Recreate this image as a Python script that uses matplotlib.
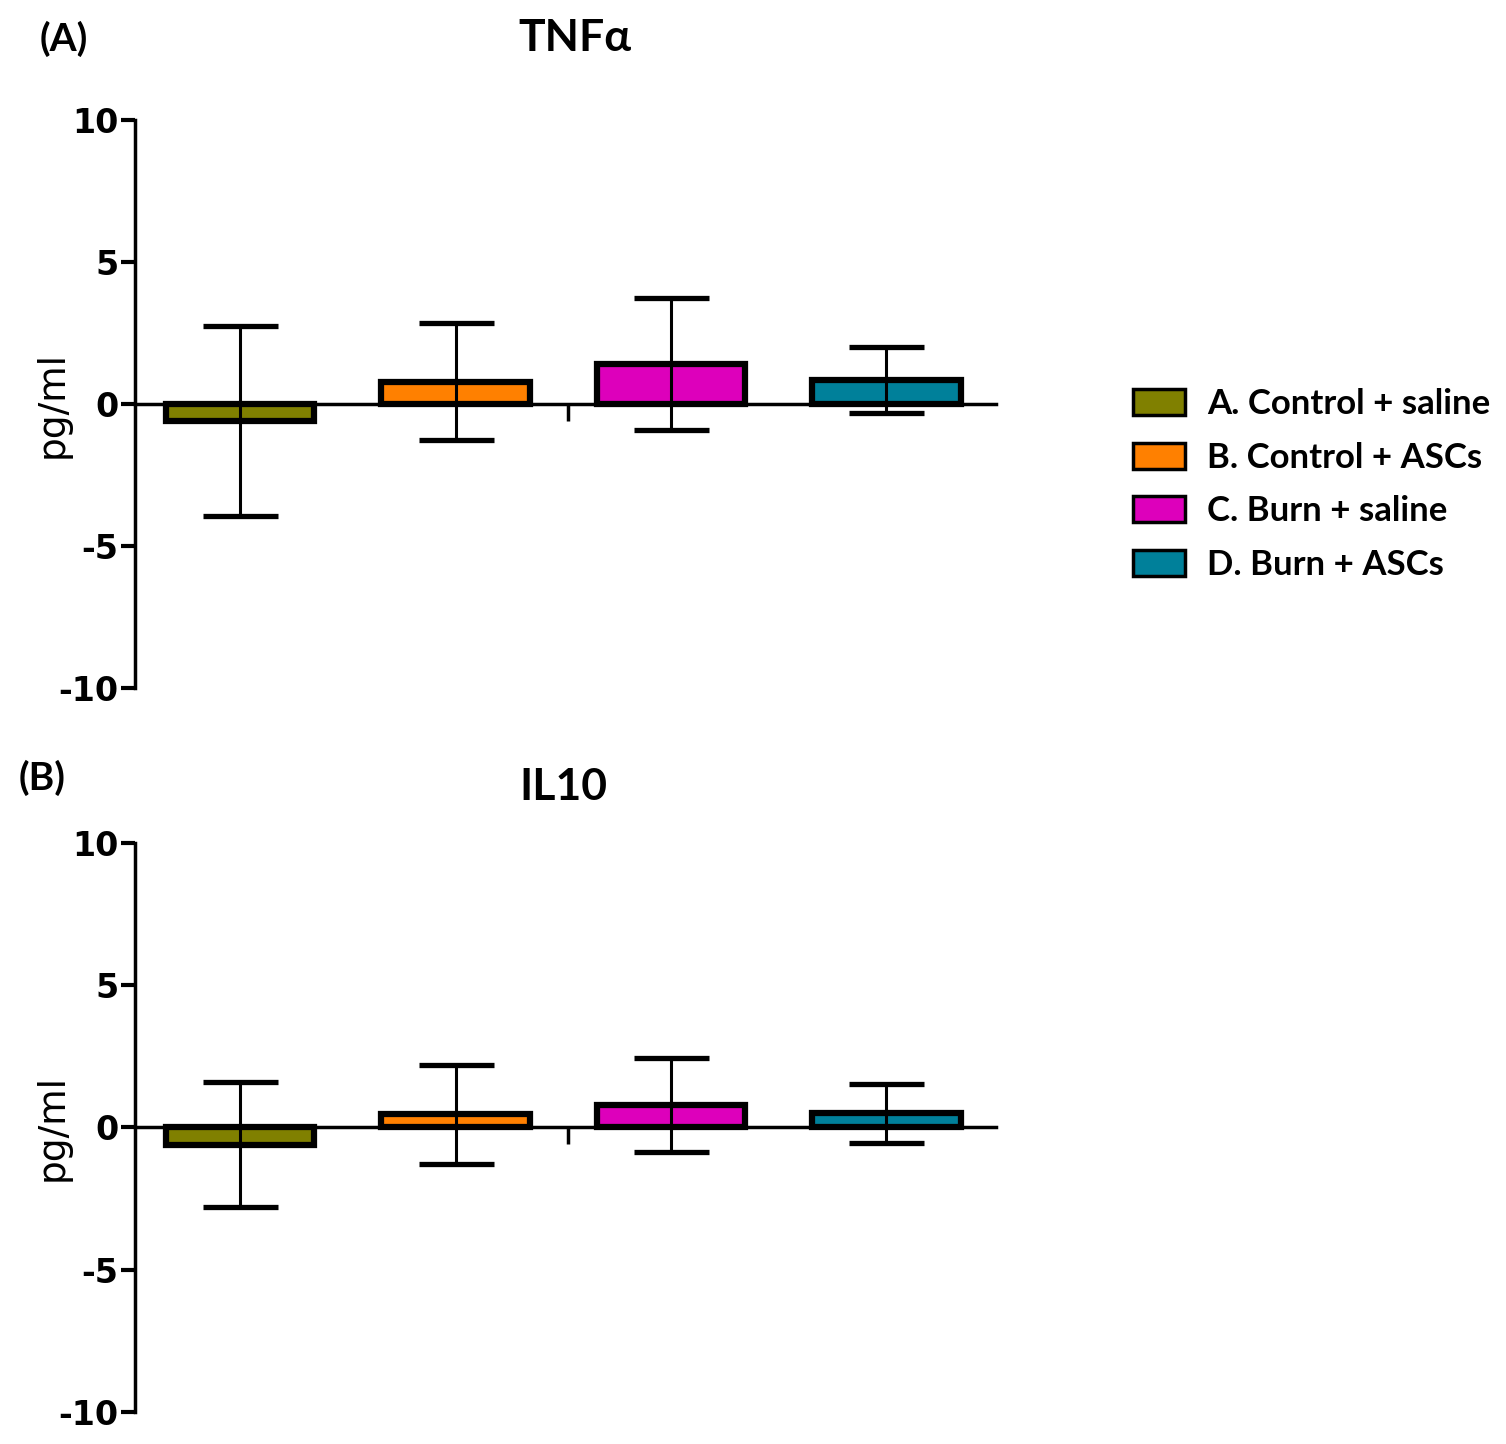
import numpy as np
import matplotlib
matplotlib.use("Agg")
import matplotlib.pyplot as plt
from matplotlib.patches import Patch

groups = ["A. Control + saline", "B. Control + ASCs", "C. Burn + saline", "D. Burn + ASCs"]
colors = ["#808000", "#FF8000", "#DD00BB", "#00809A"]

tnf_mean = [-0.6, 0.78, 1.41, 0.85]
tnf_err = [3.33, 2.06, 2.32, 1.17]

il10_mean = [-0.6, 0.46, 0.8, 0.5]
il10_err = [2.2, 1.75, 1.65, 1.04]

# tag, title, means, errors, axes rect, (tag x, tag y), (title x, title y)
panels = [
    ("(A)", "TNF\u03b1", tnf_mean, tnf_err, [0.0896, 0.5235, 0.572, 0.3934],
     (0.0425, 0.973), (0.382, 0.9737)),
    ("(B)", "IL10", il10_mean, il10_err, [0.0896, 0.0222, 0.572, 0.3940],
     (0.028, 0.4612), (0.374, 0.455)),
]

fig = plt.figure(figsize=(15.06, 14.44), dpi=100)

for tag, title, mean, err, rect, tag_xy, title_xy in panels:
    ax = fig.add_axes(rect)
    x = np.arange(len(groups))
    ax.bar(x, mean, width=0.69, color=colors, edgecolor="black", linewidth=4.5, zorder=2)
    ax.errorbar(x, mean, yerr=err, fmt="none", ecolor="black", elinewidth=2.2,
                capsize=27, capthick=3.8, zorder=3)
    ax.set_xlim(-0.488, 3.51)
    ax.set_ylim(-10, 10)
    ax.set_yticks([-10, -5, 0, 5, 10])
    ax.set_yticklabels(["-10", "-5", "0", "5", "10"], fontweight="heavy", fontsize=24)
    ax.tick_params(axis="y", direction="out", length=10, width=3, pad=2)
    ax.spines["top"].set_visible(False)
    ax.spines["right"].set_visible(False)
    ax.spines["left"].set_linewidth(2.5)
    ax.spines["bottom"].set_position(("data", 0))
    ax.spines["bottom"].set_linewidth(2.5)
    ax.spines["bottom"].set_zorder(4)
    ax.set_xticks([1.52])
    ax.set_xticklabels([""])
    ax.tick_params(axis="x", direction="out", length=12, width=2.5)
    ax.set_ylabel("pg/ml", fontsize=27)
    ax.yaxis.set_label_coords(-0.075, 0.5)
    ax.set_facecolor("none")
    fig.text(title_xy[0], title_xy[1], title, fontsize=32, family="Lato",
             fontweight="bold", ha="center", va="center")
    fig.text(tag_xy[0], tag_xy[1], tag, fontsize=28, family="Lato",
             fontweight="bold", ha="center", va="center")

handles = [Patch(facecolor=c, edgecolor="black", linewidth=2.5) for c in colors]
fig.legend(handles, groups, loc="center left", bbox_to_anchor=(0.7317, 0.6645),
           frameon=False, prop={"family": "Lato", "weight": "bold", "size": 25},
           handlelength=1.5, handleheight=0.78, labelspacing=0.62, handletextpad=0.63)

fig.savefig("out.png", dpi=100)
